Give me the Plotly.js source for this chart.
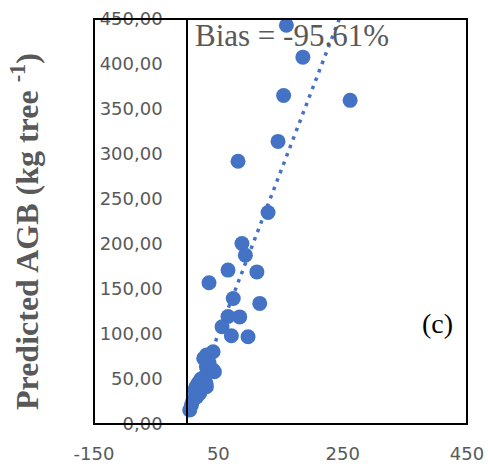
<!DOCTYPE html>
<html>
<head>
<meta charset="utf-8">
<script src="https://cdn.plot.ly/plotly-3.0.1.min.js"></script>
<style>html,body{margin:0;padding:0;background:#fff;}#chart{width:488px;height:471px;}</style>
</head>
<body>
<div id="chart"></div>
<script>
// Observed AGB (x) and predicted AGB (y), kg tree-1
const observedAGB = [159.5, 186, 155, 262, 146, 81.7, 130, 88, 93.5, 65.6, 112, 35, 74, 116.6, 65.6, 84.4, 56, 71, 97.8,
  41.5, 30.8, 26.5, 41.5, 30.8, 28.1, 17.4, 30.8, 12.1, 20.1, 9.3, 6.7, 4, 43.7, 30.2, 14.1, 22, 35, 15];
const predictedAGB = [443, 407.6, 365, 359.6, 314, 292, 235, 200.5, 187.6, 171, 169, 157, 139.5, 134, 119.5, 119, 108, 98, 97,
  80.2, 76.6, 72.9, 59.9, 63.6, 52.5, 45.2, 41.4, 37.7, 34.1, 26.6, 21.1, 15.5, 58, 45.1, 41.4, 50, 68, 30];
// Linear trendline endpoints
const trendX = [4, 262];
const trendY = [17.2, 481.6];
const xTicks = [-150, 50, 250, 450];
const yTicks = [0, 50, 100, 150, 200, 250, 300, 350, 400, 450];
const biasLabel = 'Bias = -95.61%';
const panelLabel = '(c)';
const yTitle = '<b>Predicted AGB (kg tree <sup>-1</sup>)</b>';

const blue = '#4472C4';
const grey = '#595959';
const serif = '"Liberation Serif", "Times New Roman", serif';

const traces = [
  {x: observedAGB, y: predictedAGB, type: 'scatter', mode: 'markers',
   marker: {color: blue, size: 15, line: {width: 0}}, hoverinfo: 'x+y'},
  {x: trendX, y: trendY, type: 'scatter', mode: 'lines',
   line: {color: blue, width: 3.5, dash: '3.5px,5.5px'}, hoverinfo: 'skip'}
];

const layout = {
  width: 488, height: 471,
  margin: {l: 94, r: 21, t: 19, b: 47},
  paper_bgcolor: '#fff', plot_bgcolor: '#fff',
  showlegend: false,
  separators: ',.',
  font: {family: '"DejaVu Sans", sans-serif', color: grey, size: 18},
  xaxis: {
    range: [-150, 450], tickvals: xTicks, ticktext: xTicks.map(String),
    showgrid: false, zeroline: false, showline: false, ticks: '',
    ticklabelstandoff: 17,
    tickfont: {family: '"DejaVu Sans", sans-serif', size: 18, color: grey}
  },
  yaxis: {
    range: [0, 450], tickvals: yTicks, tickformat: '.2f',
    anchor: 'free', position: 0.25,
    showgrid: false, zeroline: false, showline: true, linecolor: '#000', linewidth: 2,
    ticks: '', ticklabelstandoff: 20,
    tickfont: {family: '"DejaVu Sans", sans-serif', size: 18, color: grey}
  },
  shapes: [
    {type: 'rect', xref: 'paper', yref: 'paper', x0: 0, x1: 1, y0: 0, y1: 1,
     line: {color: '#000', width: 2}, fillcolor: 'rgba(0,0,0,0)', layer: 'above'}
  ],
  annotations: [
    {text: biasLabel, xref: 'paper', yref: 'paper', x: (193 - 94) / 373, y: 1 - (36 - 19) / 405,
     xanchor: 'left', yanchor: 'middle', showarrow: false,
     font: {family: serif, size: 31, color: grey}},
    {text: panelLabel, xref: 'paper', yref: 'paper', x: (437 - 94) / 373, y: 1 - (323 - 19) / 405,
     xanchor: 'center', yanchor: 'middle', showarrow: false,
     font: {family: serif, size: 28, color: '#000'}},
    {text: yTitle, xref: 'paper', yref: 'paper', x: (25 - 94) / 373, y: 1 - (232 - 19) / 405,
     xanchor: 'center', yanchor: 'middle', textangle: -90, showarrow: false,
     font: {family: serif, size: 32, color: grey}}
  ]
};

Plotly.newPlot('chart', traces, layout, {displayModeBar: false, staticPlot: true});
</script>
</body>
</html>
